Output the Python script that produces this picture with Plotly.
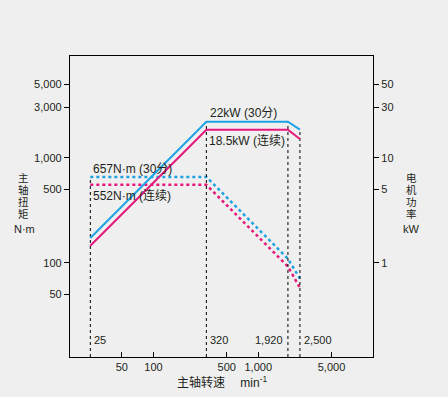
import plotly.graph_objects as go
import math

# Data
speed = [25, 320, 1920, 2500]
power_30min = [1.72, 22, 22, 18.5]
power_cont = [1.45, 18.5, 18.5, 15.1]
torque_30min = [657, 657, 109, 70.7]
torque_cont = [552, 552, 92, 57.7]

x_tickvals = [50, 100, 500, 1000, 5000]
x_ticktext = ["50", "100", "500", "1,000", "5,000"]
y_tickvals = [50, 100, 500, 1000, 3000, 5000]
y_ticktext = ["50", "100", "500", "1,000", "3,000", "5,000"]
y2_tickvals = [1, 5, 10, 30, 50]
y2_ticktext = ["1", "5", "10", "30", "50"]
speed_labels = ["25", "320", "1,920", "2,500"]
left_title_chars = ["主", "轴", "扭", "矩"]
right_title_chars = ["电", "机", "功", "率"]

BLUE = "#1ea2e4"
PINK = "#e5177b"
TXT = "#231f20"
BG = "#efefef"
FONT = "Liberation Sans, Arial, Noto Sans CJK SC"

x_range = [1.204, 4.095]
y_range = [1.102, 3.969]
y2_range = [y_range[0] - 2, y_range[1] - 2]
y_min = 10 ** y_range[0]
y2_min = 10 ** y2_range[0]

W, H = 448, 397
pl, pr, pt, pb = 70, 75, 56, 40
pw, ph = W - pl - pr, H - pt - pb


def px2paper(px, py):
    return (px - pl) / pw, (H - pb - py) / ph


fig = go.Figure()

# vertical dashed reference lines
fig.add_trace(go.Scatter(x=[speed[0], speed[0]], y=[y_min, torque_30min[0]], mode="lines",
                         line=dict(color="black", width=1, dash="3px,3px"), yaxis="y",
                         showlegend=False, hoverinfo="skip"))
for s, p in zip(speed[1:], power_30min[1:]):
    fig.add_trace(go.Scatter(x=[s, s], y=[y2_min, p], mode="lines",
                             line=dict(color="black", width=1, dash="3px,3px"), yaxis="y2",
                             showlegend=False, hoverinfo="skip"))

# torque (dotted)
fig.add_trace(go.Scatter(x=speed, y=torque_30min, mode="lines", yaxis="y",
                         line=dict(color=BLUE, width=2.5, dash="dot"), showlegend=False))
fig.add_trace(go.Scatter(x=speed, y=torque_cont, mode="lines", yaxis="y",
                         line=dict(color=PINK, width=2.5, dash="dot"), showlegend=False))
# power (solid)
fig.add_trace(go.Scatter(x=speed, y=power_30min, mode="lines", yaxis="y2",
                         line=dict(color=BLUE, width=2), showlegend=False))
fig.add_trace(go.Scatter(x=speed, y=power_cont, mode="lines", yaxis="y2",
                         line=dict(color=PINK, width=2), showlegend=False))

ann = []
f12 = dict(size=12, color=TXT, family=FONT)
f11 = dict(size=11, color=TXT, family=FONT)
f10 = dict(size=10.5, color=TXT, family=FONT)
ann.append(dict(x=math.log10(speed[1]), y=math.log10(power_30min[1]), xref="x", yref="y2",
                text="22kW (30分)", showarrow=False, xanchor="left", yanchor="bottom",
                xshift=2, yshift=0, font=f12))
ann.append(dict(x=math.log10(speed[1]), y=math.log10(power_cont[1]), xref="x", yref="y2",
                text="18.5kW (连续)", showarrow=False, xanchor="left", yanchor="top",
                xshift=1, yshift=-1, font=f12))
ann.append(dict(x=math.log10(speed[0]), y=math.log10(torque_30min[0]), xref="x", yref="y",
                text="657N·m (30分)", showarrow=False, xanchor="left", yanchor="bottom",
                xshift=1, yshift=-1, font=f12))
ann.append(dict(x=math.log10(speed[0]), y=math.log10(torque_cont[0]), xref="x", yref="y",
                text="552N·m (连续)", showarrow=False, xanchor="left", yanchor="top",
                xshift=1, yshift=-1, font=f12))
for s, lab in zip(speed, speed_labels):
    left = lab != "1,920"
    ann.append(dict(x=math.log10(s), y=0.058, xref="x", yref="paper", text=lab,
                    showarrow=False, xanchor="left" if left else "right", yanchor="middle",
                    xshift=2 if left else -3, font=f11))
xx, yy = px2paper(222, 382)
ann.append(dict(x=xx, y=yy, xref="paper", yref="paper",
                text="主轴转速　 min<sup>-1</sup>", showarrow=False, xanchor="center",
                yanchor="middle", font=f12))

char_y = [177.5, 189.5, 201.5, 213.5]
for ch, cy in zip(left_title_chars, char_y):
    xx, yy = px2paper(23, cy)
    ann.append(dict(x=xx, y=yy, xref="paper", yref="paper", text=ch, showarrow=False,
                    xanchor="center", yanchor="middle", font=f10))
for ch, cy in zip(right_title_chars, char_y):
    xx, yy = px2paper(411, cy)
    ann.append(dict(x=xx, y=yy, xref="paper", yref="paper", text=ch, showarrow=False,
                    xanchor="center", yanchor="middle", font=f10))
for (px, py, t) in [(24, 229, "N·m"), (411, 229, "kW")]:
    xx, yy = px2paper(px, py)
    ann.append(dict(x=xx, y=yy, xref="paper", yref="paper", text=t, showarrow=False,
                    xanchor="center", yanchor="middle", font=f11))

fig.update_layout(
    width=W, height=H,
    margin=dict(l=pl, r=pr, t=pt, b=pb),
    paper_bgcolor=BG, plot_bgcolor=BG,
    font=dict(family=FONT, size=11, color=TXT),
    xaxis=dict(type="log", range=x_range, tickvals=x_tickvals, ticktext=x_ticktext,
               showgrid=False, zeroline=False, showline=True, linecolor="black",
               linewidth=1.3, mirror=True, ticks="inside", ticklen=5, tickcolor="black",
               tickfont=f11),
    yaxis=dict(type="log", range=y_range, tickvals=y_tickvals, ticktext=y_ticktext,
               showgrid=False, zeroline=False, showline=True, linecolor="black",
               linewidth=1.3, ticks="outside", ticklen=5, tickcolor="black",
               tickfont=f11),
    yaxis2=dict(type="log", range=y2_range, tickvals=y2_tickvals, ticktext=y2_ticktext,
                overlaying="y", side="right", showgrid=False, zeroline=False,
                showline=True, linecolor="black", linewidth=1.3, ticks="outside",
                ticklen=5, tickcolor="black", tickfont=f11),
    annotations=ann,
)

fig.write_html(
    "out.html",
    config={"displayModeBar": False},
    post_script="document.body.style.margin='0';document.body.style.background='#efefef';",
)
